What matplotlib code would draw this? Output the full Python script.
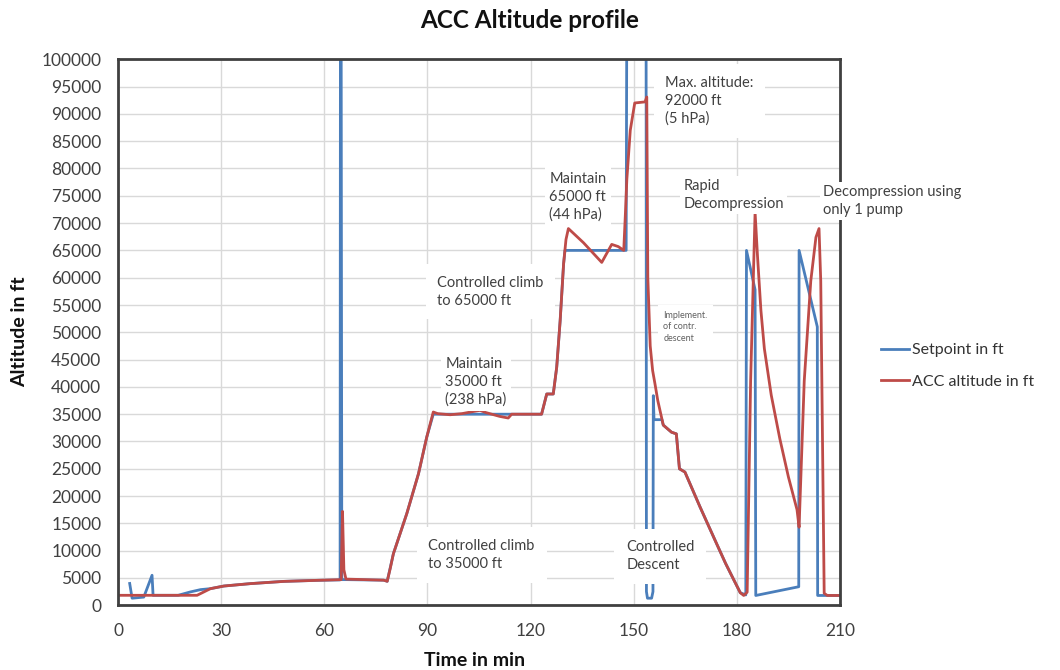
import matplotlib
matplotlib.use("Agg")
import matplotlib.pyplot as plt

plt.rcParams['font.family'] = ['Lato', 'DejaVu Sans']

# ---------------- data ----------------
setpoint_t = [3.4, 4.1, 7.5, 9.9, 10.2, 17.5, 21, 24, 26.9, 30.8, 38.5, 48.2, 57.9,
              64.6, 64.7, 64.9, 65.1, 66.6, 77.3, 78.3, 80.1, 84, 87.4, 89.8, 91.7,
              123.2, 124.7, 126.6, 127.6, 128.6, 129.6, 130.0, 147.8, 148.0,
              153.6, 153.7, 154.0, 155.2, 155.6, 155.7, 155.9, 158.2, 158.6, 161,
              162.4, 163.3, 164.9, 169.3, 174.1, 176.7, 179, 181, 182.6, 182.8,
              185.3, 185.5, 198.0, 198.1, 203.4, 203.5, 210]
setpoint_v = [4000, 1300, 1500, 5500, 1830, 1830, 2440, 2870, 3050, 3530, 3970, 4380, 4570,
              4650, 110000, 110000, 4700, 4700, 4600, 4400, 9450, 16800, 24100, 30800, 35000,
              35000, 38700, 38700, 43600, 52100, 62500, 65000, 65000, 110000,
              110000, 2500, 1300, 1300, 2500, 38400, 34000, 34000, 33000, 31700,
              31400, 25000, 24400, 18000, 11300, 7700, 4800, 2300, 1900, 65000,
              57800, 1800, 3400, 65000, 51000, 1800, 1800]

acc_t = [0, 23, 26.9, 30.8, 38.5, 48.2, 57.9, 64.9, 65.3, 65.7, 66.3, 77.3, 78.3,
         79.2, 80.1, 84, 87.4, 89.8, 91.7, 93, 96.6, 100, 103.4, 105.3, 107, 111, 113.5,
         114.5, 117, 123.2, 124.7, 126.6, 127.6, 128.6, 129.6, 130.3, 131, 135.4,
         140.7, 143.6, 145.5, 147.1, 147.6, 148, 149, 150.3, 153.3, 153.8, 154.1,
         154.8, 155.5, 156.2, 157, 158.6, 161, 162.4, 163.3, 164.9, 169.3, 174.1,
         176.7, 179, 181, 182, 183, 184, 185.3, 186, 187, 188, 190, 192.5, 195,
         197.5, 198.1, 199.6, 201.5, 203, 203.9, 204.4, 205.4, 206.3, 210]
acc_v = [1830, 1830, 3050, 3530, 3970, 4380, 4570, 4700, 17200, 6500, 4800, 4600, 4400,
         6800, 9450, 16800, 24100, 30800, 35400, 35100, 34900, 35100, 35500, 35700, 35300, 34600, 34300,
         35000, 35000, 35000, 38700, 38700, 43600, 52100, 62500, 67000, 69000, 66400,
         62800, 66100, 65700, 65000, 72000, 78000, 87000, 92000, 92200, 93100, 60000,
         47500, 43000, 40500, 37500, 33000, 31700, 31400, 25000, 24400, 18000, 11300,
         7700, 4800, 2300, 1800, 2400, 41000, 72000, 64000, 54000, 47000, 38500, 30500, 23500,
         17500, 14300, 41100, 59400, 67400, 69000, 59400, 2200, 1800, 1800]

x_ticks = [0, 30, 60, 90, 120, 150, 180, 210]
y_ticks = list(range(0, 100001, 5000))

# (text, t, altitude, fontsize, color, pad)
annotations = [
    ("Controlled climb\nto 35000 ft", 90.3, 9200, 10.5, '#404040', 0.8),
    ("Controlled\nDescent", 147.8, 9000, 10.5, '#404040', 0.8),
    ("Maintain\n35000 ft\n(238 hPa)", 95.2, 40900, 10.5, '#404040', 0.3),
    ("Controlled climb\nto 65000 ft", 92.9, 57400, 10.5, '#404040', 0.8),
    ("Maintain\n65000 ft\n(44 hPa)", 125.4, 74800, 10.5, '#404040', 0.3),
    ("Max. altitude:\n92000 ft\n(5 hPa)", 159.2, 92400, 10.5, '#404040', 0.8),
    ("Rapid\nDecompression", 164.4, 75200, 10.5, '#404040', 0.2),
    ("Decompression using\nonly 1 pump", 205.1, 74000, 10.5, '#404040', 0.2),
    ("Implement.\nof contr.\ndescent", 158.6, 51000, 6.5, '#606060', 0.6),
]

# ---------------- plot ----------------
fig = plt.figure(figsize=(10.6, 6.7), dpi=100)
ax = fig.add_axes([118/1060, 1-605.3/670, (840-118)/1060, (605.3-59.3)/670])

ax.plot(setpoint_t, setpoint_v, color='#4a7ebb', lw=2.0, label='Setpoint in ft', zorder=2)
ax.plot(acc_t, acc_v, color='#be4b48', lw=2.0, label='ACC altitude in ft', zorder=2.1)

ax.set_xlim(0, 210)
ax.set_ylim(0, 100000)
ax.set_xticks(x_ticks)
ax.set_yticks(y_ticks)
ax.set_xticklabels([str(v) for v in x_ticks])
ax.set_yticklabels([str(v) for v in y_ticks])
ax.tick_params(length=0, labelsize=12.5, colors='#404040', pad=12)
ax.tick_params(axis='x', pad=13)
ax.grid(True, color='#d9d9d9', lw=1.0, zorder=0)
ax.set_axisbelow(True)
for s in ax.spines.values():
    s.set_color('#404040')
    s.set_linewidth(2.0)

for txt, t, v, fs, col, pad in annotations:
    ax.text(t, v, txt, fontsize=fs, color=col, ha='left', va='center',
            linespacing=1.35, zorder=3,
            bbox=dict(boxstyle=f'square,pad={pad}', fc='white', ec='none'))

fig.text(0.5, 1-20/670, 'ACC Altitude profile', ha='center', va='center',
         fontsize=17.5, fontweight='bold', color='#111111')
fig.text(475/1060, 1-660/670, 'Time in min', ha='center', va='center',
         fontsize=14, fontweight='bold', color='#111111')
fig.text(20/1060, 1-332/670, 'Altitude in ft', ha='center', va='center',
         rotation=90, fontsize=14, fontweight='bold', color='#111111')

fig.legend(loc='center left', bbox_to_anchor=(881/1060, 1-366/670), frameon=False,
           fontsize=11.5, handlelength=1.75, handletextpad=0.2, labelspacing=1.1,
           labelcolor='#333333', borderaxespad=0, borderpad=0)

fig.savefig('out.png', dpi=100)
